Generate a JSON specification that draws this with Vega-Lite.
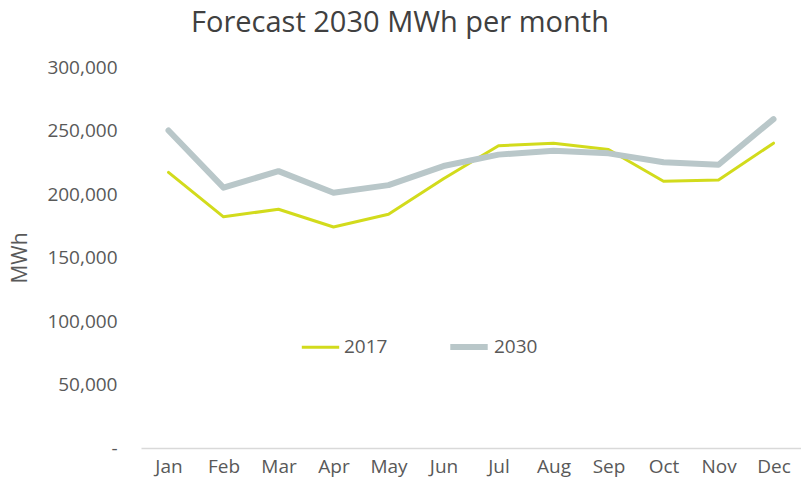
{
  "$schema": "https://vega.github.io/schema/vega-lite/v6.json",
  "width": 660,
  "height": 381,
  "autosize": {"type": "none"},
  "padding": {"left": 141, "top": 67, "right": 0, "bottom": 37},
  "background": "white",
  "title": {
    "text": "Forecast 2030 MWh per month",
    "font": "Open Sans",
    "fontSize": 29,
    "fontWeight": "normal",
    "color": "#404040",
    "anchor": "middle",
    "dx": -71,
    "offset": 20
  },
  "config": {
    "view": {"stroke": null},
    "font": "Open Sans"
  },
  "data": {
    "values": [
      {"month": "Jan", "series": "2017", "mwh": 217000},
      {"month": "Feb", "series": "2017", "mwh": 182000},
      {"month": "Mar", "series": "2017", "mwh": 188000},
      {"month": "Apr", "series": "2017", "mwh": 174000},
      {"month": "May", "series": "2017", "mwh": 184000},
      {"month": "Jun", "series": "2017", "mwh": 212000},
      {"month": "Jul", "series": "2017", "mwh": 238000},
      {"month": "Aug", "series": "2017", "mwh": 240000},
      {"month": "Sep", "series": "2017", "mwh": 235000},
      {"month": "Oct", "series": "2017", "mwh": 210000},
      {"month": "Nov", "series": "2017", "mwh": 211000},
      {"month": "Dec", "series": "2017", "mwh": 240000},
      {"month": "Jan", "series": "2030", "mwh": 250000},
      {"month": "Feb", "series": "2030", "mwh": 205000},
      {"month": "Mar", "series": "2030", "mwh": 218000},
      {"month": "Apr", "series": "2030", "mwh": 201000},
      {"month": "May", "series": "2030", "mwh": 207000},
      {"month": "Jun", "series": "2030", "mwh": 222000},
      {"month": "Jul", "series": "2030", "mwh": 231000},
      {"month": "Aug", "series": "2030", "mwh": 234000},
      {"month": "Sep", "series": "2030", "mwh": 232000},
      {"month": "Oct", "series": "2030", "mwh": 225000},
      {"month": "Nov", "series": "2030", "mwh": 223000},
      {"month": "Dec", "series": "2030", "mwh": 259000}
    ]
  },
  "mark": {"type": "line", "strokeCap": "round", "strokeJoin": "round"},
  "encoding": {
    "x": {
      "field": "month",
      "type": "ordinal",
      "sort": ["Jan","Feb","Mar","Apr","May","Jun","Jul","Aug","Sep","Oct","Nov","Dec"],
      "scale": {"type": "point", "padding": 0.5},
      "axis": {
        "title": null,
        "labelAngle": 0,
        "labelFont": "Open Sans",
        "labelFontSize": 19,
        "labelColor": "#595959",
        "labelPadding": 9,
        "ticks": false,
        "domainColor": "#d9d9d9",
        "domainWidth": 1.5,
        "grid": false
      }
    },
    "y": {
      "field": "mwh",
      "type": "quantitative",
      "scale": {"domain": [0, 300000], "nice": false},
      "axis": {
        "title": "MWh",
        "titleFont": "Open Sans",
        "titleFontSize": 21,
        "titleFontWeight": "normal",
        "titleColor": "#595959",
        "titlePadding": 16,
        "values": [0, 50000, 100000, 150000, 200000, 250000, 300000],
        "format": ",d",
        "labelExpr": "datum.value == 0 ? '-\u00a0\u00a0\u00a0' : datum.label",
        "labelFont": "Open Sans",
        "labelFontSize": 19,
        "labelColor": "#595959",
        "labelPadding": 24,
        "ticks": false,
        "domain": false,
        "grid": false
      }
    },
    "color": {
      "field": "series",
      "type": "nominal",
      "scale": {"domain": ["2017", "2030"], "range": ["#d2db1c", "#b9c7c9"]},
      "legend": {
        "title": null,
        "orient": "none",
        "direction": "horizontal",
        "legendX": 159,
        "legendY": 258,
        "symbolType": "stroke",
        "symbolSize": 1400,
        "labelFont": "Open Sans",
        "labelFontSize": 19,
        "labelColor": "#595959",
        "labelOffset": 3,
        "columnPadding": 50
      }
    },
    "strokeWidth": {
      "field": "series",
      "type": "ordinal",
      "scale": {"domain": ["2017", "2030"], "range": [3, 6]},
      "legend": null
    }
  }
}
